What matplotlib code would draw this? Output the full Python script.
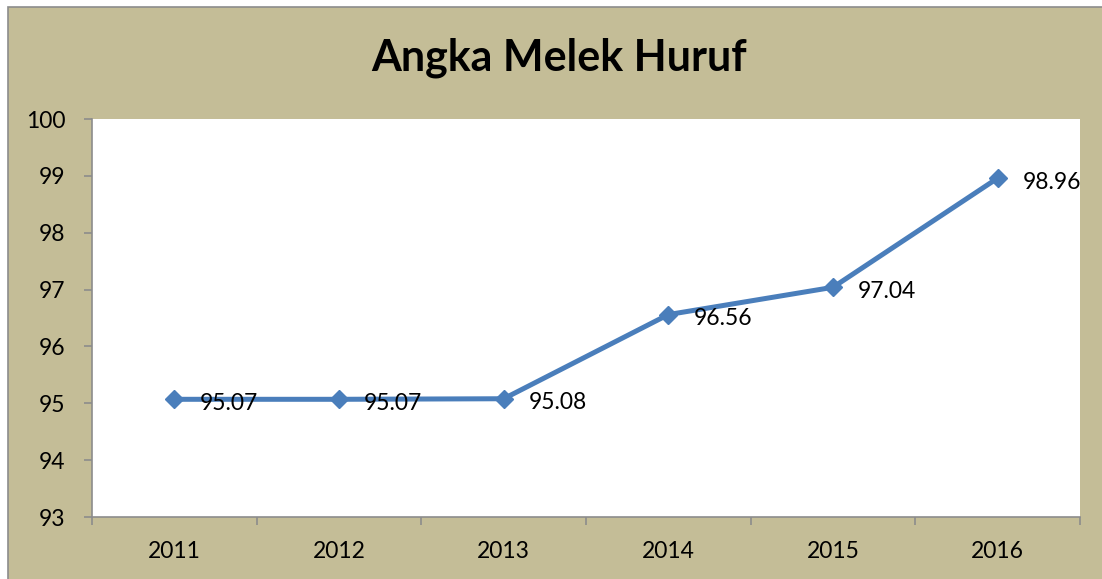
import matplotlib
matplotlib.use("Agg")
import matplotlib.pyplot as plt
from matplotlib.patches import Rectangle

years = ["2011", "2012", "2013", "2014", "2015", "2016"]
values = [95.07, 95.07, 95.08, 96.56, 97.04, 98.96]
labels = ["95.07", "95.07", "95.08", "96.56", "97.04", "98.96"]
yticks = [93, 94, 95, 96, 97, 98, 99, 100]

W, H = 1102, 579
fig = plt.figure(figsize=(W / 100, H / 100), dpi=100)
fig.patch.set_facecolor("white")
tan = "#C4BD97"
bg = Rectangle((8 / W, -0.2), 1.2, 1.2 - 7 / H, transform=fig.transFigure,
               facecolor=tan, edgecolor="#8c8c8c", linewidth=1.2, zorder=-10)
fig.add_artist(bg)

ax = fig.add_axes([92 / W, 1 - 517 / H, (1080 - 92) / W, (517 - 119) / H])
ax.set_zorder(5)
ax.set_facecolor("white")
x = list(range(len(years)))
ax.plot(x, values, color="#4A7EBB", linewidth=3.6, marker="D", markersize=9.5,
        markerfacecolor="#4A7EBB", markeredgecolor="#4A7EBB", zorder=3, clip_on=False)
for xi, v, lab in zip(x, values, labels):
    ax.annotate(lab, (xi, v), xytext=(18, -3), textcoords="offset points",
                ha="left", va="center", fontsize=16.5, family="Lato", color="black", zorder=4)

ax.set_xlim(-0.5, len(years) - 0.5)
ax.set_ylim(93, 100)
ax.set_yticks(yticks)
ax.set_yticklabels([str(t) for t in yticks], fontsize=16.5, family="Lato")
ax.set_xticks(x)
ax.set_xticklabels(years, fontsize=16.5, family="Lato")
ax.set_xticks([i - 0.5 for i in range(len(years) + 1)], minor=True)
ax.tick_params(axis="x", which="major", length=0, pad=17)
ax.tick_params(axis="x", which="minor", length=6, color="#8c8c8c", width=1.2)
ax.tick_params(axis="y", length=6, color="#8c8c8c", width=1.2, pad=13)
for s in ["top", "right"]:
    ax.spines[s].set_visible(False)
for s in ["left", "bottom"]:
    ax.spines[s].set_color("#8c8c8c")
    ax.spines[s].set_linewidth(1.2)

fig.text(559 / W, 1 - 58 / H, "Angka Melek Huruf", ha="center", va="center",
         fontsize=31, fontweight="bold", family="Lato", zorder=6)

fig.savefig("out.png", dpi=100)
